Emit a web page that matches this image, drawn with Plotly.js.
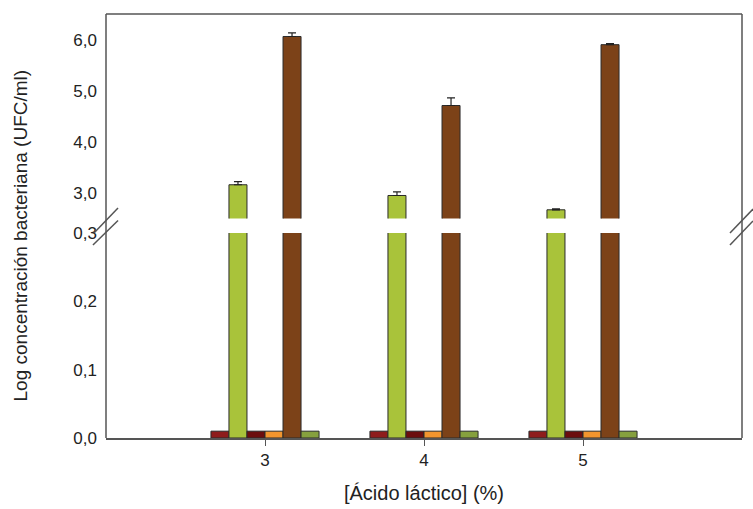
<!DOCTYPE html>
<html>
<head>
<meta charset="utf-8">
<script src="https://cdn.plot.ly/plotly-3.0.1.min.js"></script>
<style>html,body{margin:0;padding:0;background:#fff;}#chart{width:753px;height:509px;}</style>
</head>
<body>
<div id="chart"></div>
<script>
// Data
const categories = [3, 4, 5];
const seriesNames = ['Serie 1', 'Serie 2', 'Serie 3', 'Serie 4', 'Serie 5', 'Serie 6'];
const serie1 = [0.01, 0.01, 0.01];
const serie2 = [3.16, 2.95, 2.67];
const serie2Err = [0.06, 0.07, 0.02];
const serie3 = [0.01, 0.01, 0.01];
const serie4 = [0.01, 0.01, 0.01];
const serie5 = [6.06, 4.71, 5.90];
const serie5Err = [0.07, 0.15, 0.02];
const serie6 = [0.01, 0.01, 0.01];
const lowerTickVals = [0, 0.1, 0.2, 0.3];
const lowerTickText = ['0,0', '0,1', '0,2', '0,3'];
const upperTickVals = [3, 4, 5, 6];
const upperTickText = ['3,0', '4,0', '5,0', '6,0'];
const xTickText = ['3', '4', '5'];

const values = [serie1, serie2, serie3, serie4, serie5, serie6];
const errors = [null, serie2Err, null, null, serie5Err, null];
const colors = ['#8e1c1c', '#a9c33a', '#6c0d0d', '#f2952e', '#7c4218', '#86a03e'];

const traces = [];
['y', 'y2'].forEach(function (ax) {
  values.forEach(function (v, i) {
    const t = {
      type: 'bar', x: categories, y: v, name: seriesNames[i], yaxis: ax, xaxis: 'x',
      marker: {color: colors[i], line: {color: '#2b2b2b', width: 1}},
      showlegend: false, hoverinfo: 'skip'
    };
    if (ax === 'y2' && errors[i]) {
      t.error_y = {type: 'data', array: errors[i], arrayminus: errors[i].map(function(){return 0;}),
        symmetric: false, color: '#222', thickness: 1.2, width: 4};
    }
    traces.push(t);
  });
});

const lineColor = '#555';
const layout = {
  width: 753, height: 509,
  margin: {l: 106, r: 11, t: 14, b: 71},
  paper_bgcolor: '#fff', plot_bgcolor: '#fff',
  barmode: 'group', bargap: 0.32, bargroupgap: 0,
  font: {family: 'Liberation Sans, Arial, sans-serif', color: '#222', size: 17},
  xaxis: {
    range: [2, 6], tickvals: categories, ticktext: xTickText,
    showgrid: false, zeroline: false, showline: true, linecolor: lineColor, linewidth: 1.5,
    ticks: 'outside', ticklen: 6, tickcolor: lineColor, tickfont: {size: 17},
    anchor: 'y',
    title: {text: '[Ácido láctico] (%)', font: {size: 20}, standoff: 17}
  },
  yaxis: {
    domain: [0, 0.4835], range: [0, 0.3], tickvals: lowerTickVals, ticktext: lowerTickText,
    showgrid: false, zeroline: false, showline: false, ticks: '', ticklabelstandoff: 8,
    tickfont: {size: 17}
  },
  yaxis2: {
    domain: [0.5177, 1], range: [2.5, 6.5], tickvals: upperTickVals, ticktext: upperTickText,
    showgrid: false, zeroline: false, showline: false, ticks: '', ticklabelstandoff: 8,
    tickfont: {size: 17}
  },
  annotations: [{
    text: 'Log concentración bacteriana (UFC/ml)', xref: 'paper', yref: 'paper',
    x: -0.135, y: 0.478, textangle: -90, showarrow: false,
    font: {size: 19, color: '#222'}, xanchor: 'center', yanchor: 'middle'
  }],
  shapes: [
    {type: 'line', xref: 'paper', yref: 'paper', x0: 0, x1: 1, y0: 1, y1: 1, line: {color: lineColor, width: 1.5}},
    {type: 'line', xref: 'paper', yref: 'paper', x0: 0, x1: 0, y0: 0, y1: 1, line: {color: lineColor, width: 1.5}},
    {type: 'line', xref: 'paper', yref: 'paper', x0: 1, x1: 1, y0: 0, y1: 1, line: {color: lineColor, width: 1.5}},
    // break marks left
    {type: 'line', xref: 'paper', yref: 'paper', x0: -0.0189, y0: 0.4835, x1: 0.0189, y1: 0.5425, line: {color: lineColor, width: 1.5}},
    {type: 'line', xref: 'paper', yref: 'paper', x0: -0.0205, y0: 0.4550, x1: 0.0189, y1: 0.5130, line: {color: lineColor, width: 1.5}},
    // break marks right
    {type: 'line', xref: 'paper', yref: 'paper', x0: 0.9811, y0: 0.4835, x1: 1.0173, y1: 0.5400, line: {color: lineColor, width: 1.5}},
    {type: 'line', xref: 'paper', yref: 'paper', x0: 0.9811, y0: 0.4550, x1: 1.0173, y1: 0.5120, line: {color: lineColor, width: 1.5}}
  ]
};

Plotly.newPlot('chart', traces, layout, {displayModeBar: false, staticPlot: true});
</script>
</body>
</html>
